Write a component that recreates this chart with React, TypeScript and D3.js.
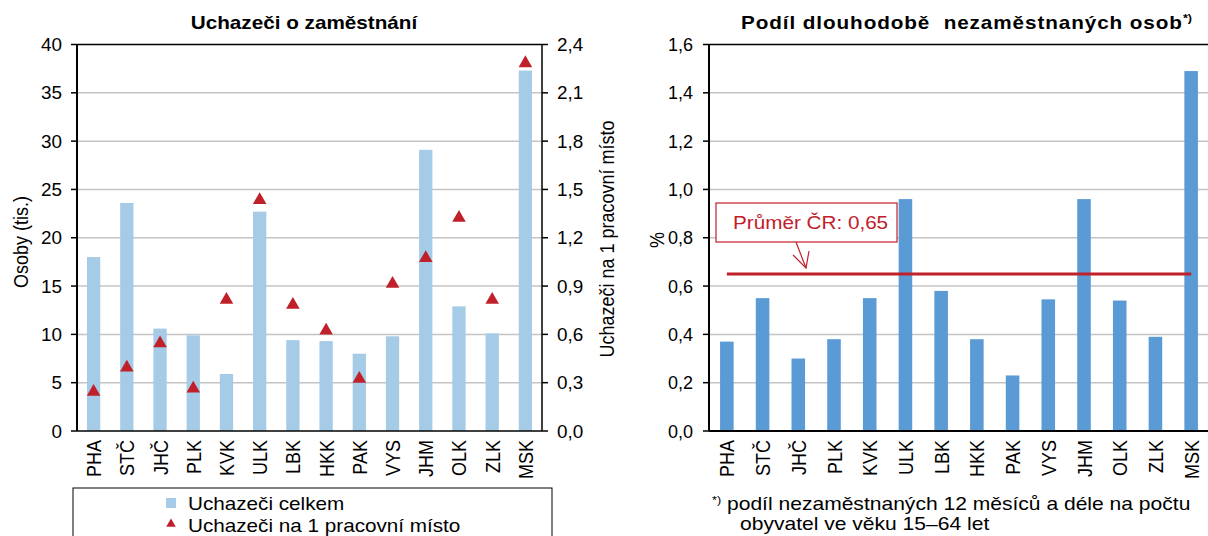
import React from "react";
import * as d3 from "d3";

const regions = ["PHA", "STČ", "JHČ", "PLK", "KVK", "ULK", "LBK", "HKK", "PAK", "VYS", "JHM", "OLK", "ZLK", "MSK"];
// Uchazeči celkem (tis.)
const applicants = [18.0, 23.6, 10.6, 9.9, 5.9, 22.7, 9.4, 9.3, 8.0, 9.8, 29.1, 12.9, 10.1, 37.3];
// Uchazeči na 1 pracovní místo
const perJob = [0.25, 0.4, 0.55, 0.27, 0.82, 1.44, 0.79, 0.63, 0.33, 0.92, 1.08, 1.33, 0.82, 2.29];
// Podíl dlouhodobě nezaměstnaných (%)
const longTerm = [0.37, 0.55, 0.3, 0.38, 0.55, 0.96, 0.58, 0.38, 0.23, 0.545, 0.96, 0.54, 0.39, 1.49];
const average = 0.65;

const leftTicks = [0, 5, 10, 15, 20, 25, 30, 35, 40];
const rightTicks = [0, 0.3, 0.6, 0.9, 1.2, 1.5, 1.8, 2.1, 2.4];
const pctTicks = [0, 0.2, 0.4, 0.6, 0.8, 1.0, 1.2, 1.4, 1.6];

const font = "Arial, 'Liberation Sans', sans-serif";
const lightBlue = "#a5cbe7";
const blue = "#5b9bd5";
const red = "#c0202a";
const grid = "#c4c4c4";
const SX = 1.15; // the source text is a bit stretched sideways

const fmt1 = (v: number) => d3.format(".1f")(v).replace(".", ",");

// horizontal text, stretched like the original
const T = ({ x, y, anchor, size = 18, fill = "#000", weight, ls, sx = SX, children }: any) => (
  <text
    transform={`translate(${x},${y}) scale(${sx},1)`}
    textAnchor={anchor}
    fontSize={size}
    fill={fill}
    fontWeight={weight}
    letterSpacing={ls}
  >
    {children}
  </text>
);

// vertical text (reads bottom to top)
const V = ({ x, y, anchor, size = 18, children }: any) => (
  <text transform={`translate(${x},${y}) scale(${SX},1) rotate(-90)`} textAnchor={anchor} fontSize={size}>
    {children}
  </text>
);

export default function App() {
  // left chart
  const x1 = d3.scaleBand().domain(regions).range([77, 542]).paddingInner(0.6).paddingOuter(0.3);
  const y1 = d3.scaleLinear().domain([0, 40]).range([431, 44.5]);
  const y1r = d3.scaleLinear().domain([0, 2.4]).range([431, 44.5]);
  const tri = d3.symbol().type(d3.symbolTriangle).size(80)();
  const triSmall = d3.symbol().type(d3.symbolTriangle).size(40)();

  // right chart
  const x2 = d3.scaleBand().domain(regions).range([709, 1209]).paddingInner(0.62).paddingOuter(0.31);
  const y2 = d3.scaleLinear().domain([0, 1.6]).range([431, 44.5]);

  const c1 = (r: string) => (x1(r) as number) + x1.bandwidth() / 2;
  const c2 = (r: string) => (x2(r) as number) + x2.bandwidth() / 2;

  return (
    <div style={{ position: "fixed", left: 0, top: 0 }}>
      <svg width={1208} height={536} style={{ display: "block", fontFamily: font }}>
        <rect width={1208} height={536} fill="#fff" />
        {/* ===== LEFT CHART ===== */}
        <T x={304} y={29} anchor="middle" weight="bold">Uchazeči o zaměstnání</T>
        {leftTicks.map((t) => (
          <g key={"l" + t}>
            {t > 0 && t < 40 && <line x1={77} x2={542} y1={y1(t)} y2={y1(t)} stroke={grid} strokeWidth={1.5} />}
            <line x1={71} x2={77} y1={y1(t)} y2={y1(t)} stroke="#000" strokeWidth={1.5} />
            <T x={62} y={y1(t) + 6.5} anchor="end" sx={1.05}>{t}</T>
          </g>
        ))}
        {rightTicks.map((t) => (
          <g key={"r" + t}>
            <line x1={542} x2={548} y1={y1r(t)} y2={y1r(t)} stroke="#000" strokeWidth={1.5} />
            <T x={557} y={y1r(t) + 6.5} sx={1.05}>{fmt1(t)}</T>
          </g>
        ))}
        {regions.map((r, i) => (
          <rect key={"b1" + r} x={x1(r)} y={y1(applicants[i])} width={x1.bandwidth()} height={431 - y1(applicants[i])} fill={lightBlue} />
        ))}
        {regions.map((r, i) => (
          <path key={"t" + r} d={tri as string} transform={`translate(${c1(r)},${y1r(perJob[i]) + 1})`} fill={red} />
        ))}
        <line x1={77} x2={542} y1={44.5} y2={44.5} stroke="#000" strokeWidth={1.5} />
        <line x1={77} x2={542} y1={431} y2={431} stroke="#000" strokeWidth={1.5} />
        <line x1={77} x2={77} y1={44.5} y2={431} stroke="#000" strokeWidth={2} />
        <line x1={542} x2={542} y1={44.5} y2={431} stroke="#000" strokeWidth={1.5} />
        {regions.map((r) => (
          <V key={"xl" + r} x={c1(r) + 7.5} y={440} anchor="end">{r}</V>
        ))}
        <V x={28} y={242} anchor="middle">Osoby (tis.)</V>
        <V x={614} y={239} anchor="middle">Uchazeči na 1 pracovní místo</V>
        {/* legend */}
        <rect x={73} y={488} width={479} height={60} fill="none" stroke="#000" strokeWidth={1} />
        <rect x={166} y={498} width={10} height={10} fill={lightBlue} />
        <T x={188} y={510}>Uchazeči celkem</T>
        <path d={triSmall as string} transform="translate(171,524)" fill={red} />
        <T x={188} y={532}>Uchazeči na 1 pracovní místo</T>

        {/* ===== RIGHT CHART ===== */}
        <T x={741} y={29} weight="bold" ls={0.8}>
          Podíl dlouhodobě{"\u00a0 "}nezaměstnaných osob
          <tspan fontSize={11} dy={-7} letterSpacing={0}>*)</tspan>
        </T>
        {pctTicks.map((t) => (
          <g key={"p" + t}>
            {t > 0 && t < 1.6 && <line x1={709} x2={1208} y1={y2(t)} y2={y2(t)} stroke={grid} strokeWidth={1.5} />}
            <line x1={703} x2={709} y1={y2(t)} y2={y2(t)} stroke="#000" strokeWidth={1.5} />
            <T x={693} y={y2(t) + 6.5} anchor="end" sx={1.0}>{fmt1(t)}</T>
          </g>
        ))}
        {regions.map((r, i) => (
          <rect key={"b2" + r} x={x2(r)} y={y2(longTerm[i])} width={x2.bandwidth()} height={431 - y2(longTerm[i])} fill={blue} />
        ))}
        <line x1={c2(regions[0])} x2={c2(regions[regions.length - 1])} y1={y2(average)} y2={y2(average)} stroke={red} strokeWidth={3} />
        <line x1={709} x2={1208} y1={44.5} y2={44.5} stroke="#000" strokeWidth={1.5} />
        <line x1={709} x2={1208} y1={431} y2={431} stroke="#000" strokeWidth={2} />
        <line x1={709} x2={709} y1={44.5} y2={431} stroke="#000" strokeWidth={2} />
        {regions.map((r) => (
          <V key={"xr" + r} x={c2(r) + 7.5} y={440} anchor="end">{r}</V>
        ))}
        <V x={664} y={240} anchor="middle">%</V>
        {/* annotation */}
        <rect x={716} y={203} width={181} height={39} fill="#fff" stroke={red} strokeWidth={1.2} />
        <T x={733} y={229} fill={red}>Průměr ČR: 0,65</T>
        <line x1={796} x2={806} y1={242} y2={268} stroke={red} strokeWidth={1.2} />
        <polyline points={`793,255 806,268 809,251`} fill="none" stroke={red} strokeWidth={1.2} />
        {/* footnote */}
        <T x={712} y={504} size={11}>*)</T>
        <T x={727} y={510} sx={1.17}>podíl nezaměstnaných 12 měsíců a déle na počtu</T>
        <T x={740} y={530} sx={1.17}>obyvatel ve věku 15–64 let</T>
      </svg>
    </div>
  );
}
